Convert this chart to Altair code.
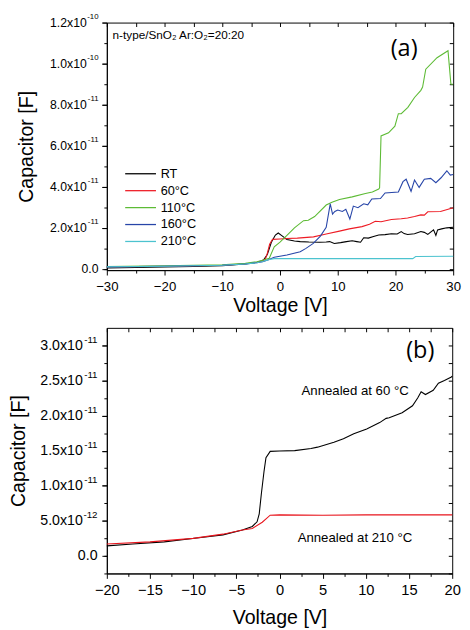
import altair as alt
import pandas as pd

FONT = "Liberation Sans"

# ---------------- panel (a): capacitance in units of 1e-11 F ----------------
a_series = ["RT", "60°C", "110°C", "160°C", "210°C"]
a_colors = ["#000000", "#ee1c25", "#5dbb35", "#2745a8", "#4cc3cf"]

rt_v = [-30, -25, -20, -15, -10, -6, -4, -3.3, -2.8, -2.2, -1.5, -0.8, -0.3, 0.3, 1.2, 2.5, 3.5, 5, 6.9, 8,
        8.6, 9.4, 10.5, 11.5, 12.5, 13.3, 13.95, 14.5, 15.3, 16.2, 17.1, 18.2, 19.3, 20.3, 21.0, 21.5,
        22.1, 23.3, 24.4, 25.0, 25.6, 26.6, 27.0, 27.3, 28.0, 28.9, 30]
rt_c = [0.05, 0.07, 0.09, 0.12, 0.16, 0.24, 0.32, 0.38, 0.45, 0.7, 1.3, 1.65, 1.75, 1.62, 1.43, 1.36, 1.33,
        1.31, 1.30, 1.31, 1.33, 1.24, 1.28, 1.33, 1.37, 1.33, 1.30, 1.52, 1.50, 1.58, 1.65, 1.67, 1.71,
        1.70, 1.82, 1.72, 1.68, 1.71, 1.82, 1.78, 1.68, 1.90, 1.63, 1.90, 1.95, 2.0, 2.03]

c60_v = [-30, -20, -10, -6, -4, -3, -2.5, -2.2, -1.8, -1.3, 0, 1.2, 3, 5.8, 8, 10.3, 12, 14.2, 15.5, 16.5,
         17.5, 19.3, 21, 22.1, 23.3, 24.4, 25.0, 25.6, 27.8, 30]
c60_c = [0.1, 0.13, 0.18, 0.25, 0.32, 0.38, 0.5, 0.76, 1.2, 1.44, 1.46, 1.48, 1.5, 1.56, 1.7, 1.84, 1.95,
         2.06, 2.18, 2.32, 2.3, 2.41, 2.44, 2.48, 2.55, 2.63, 2.62, 2.78, 2.8, 2.98]

c110_v = [-30, -20, -10, -6, -4, -3, -1.86, -1, 0, 1.2, 2.5, 4.07, 4.9, 6, 8, 9, 10.3, 12.5, 14.8, 16, 17.1,
          17.25, 17.5, 18.8, 19.9, 20.5, 21.0, 22.15, 23.3, 24.4, 24.7, 25.25, 27.2, 29.1, 29.6, 30]
c110_c = [0.12, 0.15, 0.2, 0.27, 0.35, 0.42, 0.52, 1.08, 1.3, 1.63, 2.0, 2.35, 2.37, 2.55, 3.11, 3.25, 3.38,
          3.51, 3.67, 3.75, 3.89, 3.95, 6.48, 6.63, 6.95, 7.56, 7.56, 7.87, 8.35, 8.70, 8.86, 9.73, 10.29,
          10.63, 9.01, 9.0]

c160_v = [-30, -20, -10, -6, -4, -3, -2, -1, 1.2, 3.5, 4.5, 5.76, 7, 8, 8.7, 9.1, 9.5, 10.0, 10.8, 11.4,
          12.1, 12.7, 13.5, 14.5, 15.2, 15.9, 17.4, 18.2, 20.5, 21.3, 21.85, 22.7, 23.3, 24.1, 25.0, 26.1,
          27.0, 27.9, 28.9, 29.5, 30]
c160_c = [0.1, 0.13, 0.18, 0.24, 0.3, 0.35, 0.45, 0.57, 0.68, 0.84, 1.0, 1.24, 1.6, 2.03, 3.17, 2.67, 2.8,
          2.87, 2.8, 2.9, 2.43, 3.06, 2.98, 3.17, 3.12, 3.41, 3.43, 3.70, 3.75, 4.25, 4.37, 3.78, 4.33,
          3.97, 4.37, 4.41, 4.2, 4.44, 4.78, 4.57, 4.6]

c210_v = [-30, -20, -10, -6, -4, -3, -2, -1, 0, 10, 20, 23, 23.5, 30]
c210_c = [0.1, 0.13, 0.18, 0.24, 0.3, 0.36, 0.45, 0.5, 0.5, 0.5, 0.5, 0.5, 0.6, 0.62]

a_x_major = [-30, -20, -10, 0, 10, 20, 30]
a_x_minor = [-25, -15, -5, 5, 15, 25]
a_y_major = [0, 2, 4, 6, 8, 10, 12]
a_y_minor = [0, 1, 3, 5, 7, 9, 11]
a_mant = {2: "2.0x10", 4: "4.0x10", 6: "6.0x10", 8: "8.0x10", 10: "1.0x10", 12: "1.2x10"}
a_expo = {2: "-11", 4: "-11", 6: "-11", 8: "-11", 10: "-10", 12: "-10"}

# ---------------- panel (b): capacitance in units of 1e-11 F ----------------
b_series = ["Annealed at 60 °C", "Annealed at 210 °C"]
b_colors = ["#000000", "#e8141c"]

b60_v = [-20, -17, -13.35, -9.6, -6.55, -4.3, -3.15, -2.6, -2.35, -2.1, -1.8, -1.57, -1.08, 0, 1.76, 3.65,
         4.4, 6.3, 7.4, 8.6, 10.1, 11.6, 12.35, 12.7, 14.2, 15.4, 16.0, 16.4, 16.9, 17.8, 18.4, 19.1, 19.9, 20]
b60_c = [0.143, 0.17, 0.2, 0.255, 0.30, 0.37, 0.42, 0.486, 0.6, 0.89, 1.2, 1.40, 1.49, 1.495, 1.50, 1.53,
         1.55, 1.62, 1.67, 1.74, 1.81, 1.90, 1.96, 1.97, 2.04, 2.14, 2.25, 2.34, 2.30, 2.36, 2.46, 2.50, 2.55, 2.56]

b210_v = [-20, -15, -10, -6.55, -4.3, -3.15, -2.0, -1.08, 0, 5, 10, 15, 20]
b210_c = [0.17, 0.2, 0.25, 0.31, 0.37, 0.39, 0.48, 0.58, 0.585, 0.58, 0.585, 0.585, 0.585]

b_x_major = [-20, -15, -10, -5, 0, 5, 10, 15, 20]
b_x_minor = [-17.5, -12.5, -7.5, -2.5, 2.5, 7.5, 12.5, 17.5]
b_y_major = [0, 0.5, 1, 1.5, 2, 2.5, 3]
b_y_minor = [0, -0.25, 0.25, 0.75, 1.25, 1.75, 2.25, 2.75]
b_mant = {0.5: "5.0x10", 1: "1.0x10", 1.5: "1.5x10", 2: "2.0x10", 2.5: "2.5x10", 3: "3.0x10"}
b_expo = {0.5: "-12", 1: "-11", 1.5: "-11", 2: "-11", 2.5: "-11", 3: "-11"}


def frame(series_list):
    rows = []
    for name, vs, cs in series_list:
        for i, (v, c) in enumerate(zip(vs, cs)):
            rows.append({"series": name, "V": v, "C": c, "idx": i})
    return pd.DataFrame(rows)


def label_expr(mapping):
    s = "''"
    for k, v in mapping.items():
        s = f"abs(datum.value - ({k})) < 1e-6 ? '{v}' : ({s})"
    return s


def panel(df, series, colors, xdom, ydom, xmaj, xmin_, ymaj, ymin_, mant, expo,
          W, H, xfs, yfs, efs, legend, texts, ytx, xtp, mpad, epad, xlp):
    xs = alt.Scale(domain=xdom, nice=False, zero=False)
    ys = alt.Scale(domain=ydom, nice=False, zero=False)
    base = alt.Chart(df)
    common = dict(labelFont=FONT, titleFont=FONT, labelColor="black", titleColor="black",
                  tickColor="black", domainColor="black", grid=False, labelFlush=False,
                  labelOverlap=False, titleFontWeight="normal")
    yall = sorted(set(ymaj + ymin_))
    xall = sorted(set(xmaj + xmin_))

    lines = base.mark_line(strokeWidth=1.1).encode(
        x=alt.X("V:Q", scale=xs, axis=alt.Axis(values=xmaj, orient="bottom", tickSize=5, labelPadding=xlp,
                                                 labelFontSize=xfs, format="d", title="Voltage [V]",
                                                 titleFontSize=20, titlePadding=xtp, **common)),
        y=alt.Y("C:Q", scale=ys, axis=alt.Axis(values=ymaj, orient="left", tickSize=5, labelPadding=mpad,
                                                 labelFontSize=yfs, labelExpr=label_expr(mant),
                                                 title="Capacitor [F]", titleFontSize=20, titleX=ytx,
                                                 **common)),
        color=alt.Color("series:N", scale=alt.Scale(domain=series, range=colors), legend=legend),
        order=alt.Order("idx:Q"),
    )
    minor = base.mark_point(opacity=0).encode(
        x=alt.X("V:Q", scale=xs, axis=alt.Axis(values=xmin_, orient="bottom", tickSize=3, labels=False,
                                                 domain=False, title=None, **common)),
        y=alt.Y("C:Q", scale=ys, axis=alt.Axis(values=ymin_, orient="left", tickSize=3, labelPadding=epad + 2,
                                                 labelFontSize=yfs,
                                                 labelExpr="abs(datum.value) < 1e-6 ? '0.0' : ''",
                                                 domain=False, title=None, **common)),
    )
    mirror = base.mark_point(opacity=0).encode(
        x=alt.X("V:Q", scale=xs, axis=alt.Axis(values=xall, orient="top", tickSize=4, offset=-4, labels=False,
                                                 domain=False, title=None, **common)),
        y=alt.Y("C:Q", scale=ys, axis=alt.Axis(values=yall, orient="right", tickSize=4, offset=-4,
                                                 labels=False, domain=False, title=None, **common)),
    )
    expo_layer = base.mark_point(opacity=0).encode(
        x=alt.X("V:Q", scale=xs, axis=None),
        y=alt.Y("C:Q", scale=ys, axis=alt.Axis(values=list(expo.keys()), orient="left", tickSize=5,
                                                 labelPadding=epad, labelFontSize=efs, labelOffset=-6,
                                                 labelExpr=label_expr(expo), domain=False, title=None,
                                                 **common)),
    )
    layers = [lines, minor, mirror, expo_layer]
    for t in texts:
        tdf = pd.DataFrame({"x": [t["x"]], "y": [t["y"]], "text": [t["text"]]})
        layers.append(alt.Chart(tdf).mark_text(align=t.get("align", "left"), baseline="middle",
                                               font=t.get("font", FONT), fontSize=t["size"],
                                               color="black").encode(
            x=alt.X("x:Q", scale=xs, axis=None), y=alt.Y("y:Q", scale=ys, axis=None), text="text:N"))
    return alt.layer(*layers).resolve_axis(x="independent", y="independent").properties(width=W, height=H)


df_a = frame([("RT", rt_v, rt_c), ("60°C", c60_v, c60_c), ("110°C", c110_v, c110_c),
              ("160°C", c160_v, c160_c), ("210°C", c210_v, c210_c)])
df_b = frame([(b_series[0], b60_v, b60_c), (b_series[1], b210_v, b210_c)])

legend_a = alt.Legend(title=None, orient="none", legendX=28, legendY=148, symbolType="M-3,0H3",
                      symbolSize=110, symbolStrokeWidth=1.3, labelFontSize=13, labelFont=FONT,
                      labelColor="black", rowPadding=3.3, labelOffset=14, padding=0)

top = panel(df_a, a_series, a_colors, [-30, 30], [-0.06, 12], a_x_major, a_x_minor, a_y_major, a_y_minor,
            a_mant, a_expo, 354, 253, 13.5, 12.5, 8, legend_a,
            [{"x": -29, "y": 11.38, "text": "n-type/SnO₂ Ar:O₂=20:20", "size": 12},
             {"x": 21.5, "y": 10.7, "text": "(a)", "size": 24, "align": "center", "font": "Open Sans"}],
            ytx=-72, xtp=3, mpad=16, epad=4, xlp=5)

bottom = panel(df_b, b_series, b_colors, [-20, 20], [-0.25, 3.25], b_x_major, b_x_minor, b_y_major,
               b_y_minor, b_mant, b_expo, 353, 251, 15, 14.5, 10, None,
               [{"x": 2.55, "y": 2.35, "text": "Annealed at 60 °C", "size": 13.5},
                {"x": 2.1, "y": 0.25, "text": "Annealed at 210 °C", "size": 13.5},
                {"x": 16.3, "y": 2.92, "text": "(b)", "size": 24, "align": "center", "font": "Open Sans"}],
               ytx=-80, xtp=10, mpad=20, epad=5, xlp=5)

chart = alt.vconcat(top, bottom, spacing=11).resolve_scale(color="independent").properties(
    padding={"left": 0, "top": -3, "right": 0, "bottom": 0}
).configure_view(stroke="black", strokeWidth=1)

chart.save("out.html", embed_options={"renderer": "svg", "actions": False})
